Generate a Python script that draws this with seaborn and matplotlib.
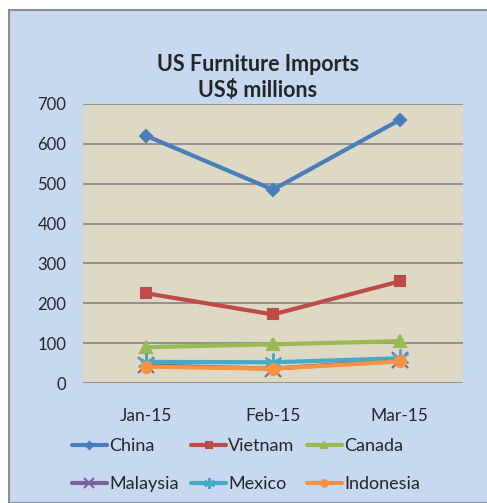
import pandas as pd
import matplotlib
matplotlib.use("Agg")
import matplotlib.pyplot as plt
from matplotlib.patches import Rectangle
import seaborn as sns

# DATA
months = ["Jan-15", "Feb-15", "Mar-15"]
china = [620, 485, 660]
vietnam = [225, 172, 255]
canada = [90, 97, 105]
malaysia = [44, 36, 57]
mexico = [53, 52, 62]
indonesia = [41, 36, 54]

countries = ["China", "Vietnam", "Canada", "Malaysia", "Mexico", "Indonesia"]
series = [china, vietnam, canada, malaysia, mexico, indonesia]

df = pd.DataFrame({
    "month": months * len(countries),
    "country": [c for c in countries for _ in months],
    "value": [v for s in series for v in s],
})

colors = {"China": "#4A7EBB", "Vietnam": "#BE4B48", "Canada": "#98B954",
          "Malaysia": "#7D60A0", "Mexico": "#46AAC5", "Indonesia": "#F69240"}
markers = {"China": "D", "Vietnam": "s", "Canada": "^",
           "Malaysia": "x", "Mexico": (6, 2, 0), "Indonesia": "o"}
msizes = {"China": 6, "Vietnam": 7, "Canada": 8,
          "Malaysia": 12, "Mexico": 13, "Indonesia": 8}

sns.set_style("white")
plt.rcParams["font.family"] = ["Lato", "DejaVu Sans"]

fig = plt.figure(figsize=(4.87, 5.03), dpi=100)
fig.patch.set_facecolor("white")
fig.patches.append(Rectangle((9 / 487, 0), 1, 1 - 10 / 503, transform=fig.transFigure,
                             facecolor="#C6D9F1", edgecolor="#8C8C8C", linewidth=1.5,
                             zorder=-1))

ax = fig.add_axes([83 / 487, 120 / 503, 380 / 487, 279 / 503])
ax.set_facecolor("#DDD9C4")

for c in countries:
    sub = df[df["country"] == c]
    sns.lineplot(data=sub, x="month", y="value", color=colors[c],
                 marker=markers[c], markersize=msizes[c], markeredgewidth=1.5,
                 markeredgecolor=colors[c], linewidth=3, sort=False, ax=ax, label=c)

ax.set_xlim(-0.5, 2.5)
ax.set_ylim(0, 700)
ax.set_yticks(range(0, 701, 100))
ax.yaxis.grid(True, color="#868686", linewidth=1.2)
ax.set_axisbelow(True)
for s in ax.spines.values():
    s.set_visible(False)
ax.tick_params(axis="y", length=0, pad=12, labelsize=12)
ax.tick_params(axis="x", length=0, pad=18, labelsize=12.5)
ax.set_xlabel("")
ax.set_ylabel("")

fig.text(258 / 487, 1 - 71 / 503, "US Furniture Imports", ha="center",
         va="baseline", fontsize=15.5, fontweight="bold")
fig.text(258 / 487, 1 - 97 / 503, "US$ millions", ha="center",
         va="baseline", fontsize=15.5, fontweight="bold")

handles = {c: l for c, l in zip(countries, ax.lines)}
ax.get_legend().remove()
order = ["China", "Malaysia", "Vietnam", "Mexico", "Canada", "Indonesia"]
leg = fig.legend([handles[c] for c in order], order, ncol=3,
                 loc="upper left", bbox_to_anchor=(56 / 487, 1 - 422 / 503),
                 frameon=False, fontsize=13, handlelength=1.9, handletextpad=0.15,
                 columnspacing=0.7, labelspacing=1.2, markerscale=0.6)

fig.savefig("out.png", dpi=100)
